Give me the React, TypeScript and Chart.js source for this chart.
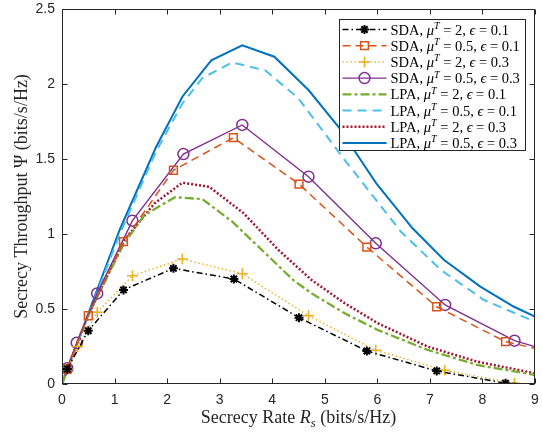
import { useEffect, useRef } from 'react';
import { Chart, registerables } from 'chart.js';

Chart.register(...registerables);

// ---- data ----
const xTickValues = [0, 1, 2, 3, 4, 5, 6, 7, 8, 9];
const yTickValues = [0, 0.5, 1, 1.5, 2, 2.5];

const methods = ['SDA', 'SDA', 'SDA', 'SDA', 'LPA', 'LPA', 'LPA', 'LPA'];
const muValues = ['2', '0.5', '2', '0.5', '2', '0.5', '2', '0.5'];
const epsValues = ['0.1', '0.1', '0.3', '0.3', '0.1', '0.1', '0.3', '0.3'];

const sdaMu2Eps01X = [0.1, 0.5, 1.17, 2.12, 3.27, 4.51, 5.8, 7.13, 8.44, 9.0];
const sdaMu2Eps01Y = [0.1, 0.355, 0.627, 0.771, 0.7, 0.442, 0.22, 0.087, 0.005, 0.0];

const sdaMu05Eps01X = [0.1, 0.5, 1.17, 2.12, 3.26, 4.51, 5.8, 7.13, 8.44, 9.0];
const sdaMu05Eps01Y = [0.1, 0.455, 0.949, 1.425, 1.642, 1.333, 0.913, 0.515, 0.282, 0.238];

const sdaMu2Eps03X = [0.1, 0.3, 0.67, 1.34, 2.29, 3.43, 4.69, 5.97, 7.28, 8.61, 9.0];
const sdaMu2Eps03Y = [0.1, 0.25, 0.478, 0.722, 0.833, 0.735, 0.455, 0.225, 0.091, 0.005, 0.0];

const sdaMu05Eps03X = [0.1, 0.28, 0.67, 1.34, 2.31, 3.43, 4.69, 5.97, 7.29, 8.61, 9.0];
const sdaMu05Eps03Y = [0.105, 0.275, 0.604, 1.089, 1.533, 1.727, 1.382, 0.938, 0.527, 0.289, 0.249];

const lpaMu2Eps01X = [0, 0.1, 0.5, 1.17, 1.57, 2.15, 2.67, 3.24, 3.87, 4.4, 4.75, 5.38, 6.01, 6.96, 7.9, 9.0];
const lpaMu2Eps01Y = [0, 0.1, 0.46, 0.93, 1.127, 1.245, 1.233, 1.082, 0.871, 0.693, 0.604, 0.471, 0.36, 0.227, 0.127, 0.06];

const lpaMu05Eps01X = [0, 0.1, 0.5, 1.1, 1.79, 2.29, 2.67, 3.24, 3.87, 4.5, 5.38, 6.45, 7.21, 8.03, 9.0];
const lpaMu05Eps01Y = [0, 0.09, 0.46, 1.0, 1.55, 1.87, 2.04, 2.144, 2.09, 1.904, 1.493, 1.015, 0.76, 0.56, 0.415];

const lpaMu2Eps03X = [0, 0.1, 0.5, 1.19, 1.76, 2.29, 2.8, 3.45, 4.12, 4.75, 5.38, 6.01, 6.96, 7.9, 9.0];
const lpaMu2Eps03Y = [0, 0.1, 0.46, 0.96, 1.204, 1.342, 1.315, 1.14, 0.893, 0.693, 0.538, 0.405, 0.249, 0.149, 0.071];

const lpaMu05Eps03X = [0, 0.1, 0.5, 1.1, 1.79, 2.29, 2.84, 3.43, 4.04, 4.69, 5.26, 5.98, 6.67, 7.27, 7.96, 8.6, 9.0];
const lpaMu05Eps03Y = [0, 0.09, 0.47, 1.03, 1.58, 1.915, 2.158, 2.258, 2.182, 1.96, 1.715, 1.338, 1.038, 0.827, 0.649, 0.515, 0.449];

const seriesX = [sdaMu2Eps01X, sdaMu05Eps01X, sdaMu2Eps03X, sdaMu05Eps03X, lpaMu2Eps01X, lpaMu05Eps01X, lpaMu2Eps03X, lpaMu05Eps03X];
const seriesY = [sdaMu2Eps01Y, sdaMu05Eps01Y, sdaMu2Eps03Y, sdaMu05Eps03Y, lpaMu2Eps01Y, lpaMu05Eps01Y, lpaMu2Eps03Y, lpaMu05Eps03Y];

// ---- styles ----
const styles = [
  { color: '#000000', dash: [6, 3, 1.5, 3], width: 1.5, marker: 'star', r: 4.5 },
  { color: '#D95319', dash: [8, 5], width: 1.5, marker: 'rect', r: 5.5 },
  { color: '#EDB120', dash: [1.5, 2.5], width: 1.4, marker: 'cross', r: 5.5 },
  { color: '#7E2F8E', dash: [], width: 1.4, marker: 'circle', r: 5.5 },
  { color: '#77AC30', dash: [9, 3, 3, 3], width: 2.3, marker: null, r: 0 },
  { color: '#4DBEEE', dash: [9, 6], width: 2, marker: null, r: 0 },
  { color: '#A2142F', dash: [2, 2], width: 2.5, marker: null, r: 0 },
  { color: '#0072BD', dash: [], width: 2, marker: null, r: 0 },
];

const SERIF = '"Liberation Serif", "DejaVu Serif", serif';
const SANS = '"Liberation Sans", Arial, sans-serif';
const AXIS_COLOR = '#262626';

type Seg = { t: string; it?: boolean; sup?: boolean; sub?: boolean };

function drawRich(ctx: CanvasRenderingContext2D, x: number, y: number, segs: Seg[], size: number, measureOnly = false) {
  let cx = x;
  for (const s of segs) {
    const sz = s.sup || s.sub ? size * 0.7 : size;
    ctx.font = `${s.it ? 'italic ' : ''}${sz}px ${SERIF}`;
    const dy = s.sup ? -size * 0.38 : s.sub ? size * 0.22 : 0;
    if (!measureOnly) ctx.fillText(s.t, cx, y + dy);
    cx += ctx.measureText(s.t).width;
  }
  return cx - x;
}

function legendSegs(i: number): Seg[] {
  return [
    { t: methods[i] + ', ' },
    { t: 'μ', it: true },
    { t: 'T', it: true, sup: true },
    { t: ' = ' + muValues[i] + ', ' },
    { t: 'ϵ', it: true },
    { t: ' = ' + epsValues[i] },
  ];
}

function drawMarker(ctx: CanvasRenderingContext2D, kind: string, x: number, y: number, r: number, color: string) {
  ctx.save();
  ctx.setLineDash([]);
  ctx.strokeStyle = color;
  ctx.lineWidth = kind === 'star' ? 2 : 1.5;
  ctx.beginPath();
  if (kind === 'circle') {
    ctx.arc(x, y, r, 0, Math.PI * 2);
  } else if (kind === 'rect') {
    const s = r * Math.SQRT1_2;
    ctx.rect(x - s, y - s, 2 * s, 2 * s);
  } else if (kind === 'cross') {
    ctx.moveTo(x - r, y); ctx.lineTo(x + r, y);
    ctx.moveTo(x, y - r); ctx.lineTo(x, y + r);
  } else if (kind === 'star') {
    for (let k = 0; k < 4; k++) {
      const a = (k * Math.PI) / 4;
      ctx.moveTo(x - r * Math.cos(a), y - r * Math.sin(a));
      ctx.lineTo(x + r * Math.cos(a), y + r * Math.sin(a));
    }
  }
  ctx.stroke();
  ctx.restore();
}

const decorPlugin = {
  id: 'decor',
  afterDatasetsDraw(chart: any) {
    const ctx: CanvasRenderingContext2D = chart.ctx;
    const { left, right, top, bottom } = chart.chartArea;
    const xs = chart.scales.x;
    const ys = chart.scales.y;
    ctx.save();
    // axes box
    ctx.strokeStyle = AXIS_COLOR;
    ctx.lineWidth = 1;
    ctx.setLineDash([]);
    const L = Math.round(left) + 0.5, R = Math.round(right) - 0.5, T = Math.round(top) + 0.5, B = Math.round(bottom) - 0.5;
    ctx.strokeRect(L, T, R - L, B - T);
    ctx.beginPath();
    for (const v of xTickValues) {
      const px = Math.round(xs.getPixelForValue(v)) + 0.5;
      ctx.moveTo(px, B); ctx.lineTo(px, B - 5);
      ctx.moveTo(px, T); ctx.lineTo(px, T + 5);
    }
    for (const v of yTickValues) {
      const py = Math.round(ys.getPixelForValue(v)) + 0.5;
      ctx.moveTo(L, py); ctx.lineTo(L + 5, py);
      ctx.moveTo(R, py); ctx.lineTo(R - 5, py);
    }
    ctx.stroke();

    // legend
    const boxL = Math.round(right) - 196 + 0.5;
    const boxT = Math.round(top) + 10 + 0.5;
    const boxW = 186, boxH = 131;
    ctx.fillStyle = '#ffffff';
    ctx.fillRect(boxL, boxT, boxW, boxH);
    ctx.strokeStyle = AXIS_COLOR;
    ctx.lineWidth = 1;
    ctx.strokeRect(boxL, boxT, boxW, boxH);
    ctx.textBaseline = 'alphabetic';
    ctx.textAlign = 'left';
    chart.data.datasets.forEach((_ds: any, i: number) => {
      const st = styles[i];
      const cy = boxT + 10 + i * 16.2;
      ctx.save();
      ctx.strokeStyle = st.color;
      ctx.lineWidth = st.width;
      ctx.setLineDash(st.dash);
      ctx.beginPath();
      ctx.moveTo(boxL + 3, cy);
      ctx.lineTo(boxL + 47, cy);
      ctx.stroke();
      ctx.restore();
      if (st.marker) drawMarker(ctx, st.marker, boxL + 25, cy, st.r, st.color);
      ctx.fillStyle = '#000000';
      drawRich(ctx, boxL + 51, cy + 5, legendSegs(i), 14.5);
    });

    // axis titles
    ctx.fillStyle = AXIS_COLOR;
    const xSegs: Seg[] = [{ t: 'Secrecy Rate ' }, { t: 'R', it: true }, { t: 's', it: true, sub: true }, { t: ' (bits/s/Hz)' }];
    const xw = drawRich(ctx, 0, 0, xSegs, 18, true);
    drawRich(ctx, (left + right) / 2 - xw / 2, 423, xSegs, 18);

    const ySegs: Seg[] = [{ t: 'Secrecy Throughput Ψ (bits/s/Hz)' }];
    const yw = drawRich(ctx, 0, 0, ySegs, 18, true);
    ctx.translate(27, (top + bottom) / 2);
    ctx.rotate(-Math.PI / 2);
    drawRich(ctx, -yw / 2, 0, ySegs, 18);
    ctx.restore();
  },
};

export default function App() {
  const ref = useRef<HTMLCanvasElement | null>(null);
  useEffect(() => {
    document.body.style.margin = '0';
    const canvas = ref.current;
    if (!canvas) return;
    const datasets = seriesX.map((xsArr, i) => {
      const st = styles[i];
      const n = xsArr.length;
      return {
        label: `${methods[i]}, μT = ${muValues[i]}, ϵ = ${epsValues[i]}`,
        data: xsArr.map((x, k) => ({ x, y: seriesY[i][k] })),
        borderColor: st.color,
        backgroundColor: 'rgba(0,0,0,0)',
        borderWidth: st.width,
        borderDash: st.dash,
        tension: 0,
        fill: false,
        pointStyle: st.marker || 'circle',
        pointRadius: st.marker ? (c: any) => (c.dataIndex === n - 1 ? 0 : st.r) : 0,
        pointBorderWidth: st.marker === 'star' ? 2 : 1.5,
        pointBorderColor: st.color,
        pointBackgroundColor: 'rgba(0,0,0,0)',
        pointHoverRadius: 0,
      };
    });
    const chart = new Chart(canvas, {
      type: 'line',
      data: { datasets },
      options: {
        animation: false,
        responsive: false,
        maintainAspectRatio: false,
        events: [],
        layout: { padding: { top: 9, right: 4, left: 0, bottom: 0 } },
        plugins: { legend: { display: false }, tooltip: { enabled: false }, title: { display: false } },
        scales: {
          x: {
            type: 'linear',
            min: 0,
            max: 9,
            afterFit: (s: any) => { s.height = 48; s.paddingLeft = 0; s.paddingRight = 0; },
            grid: { display: false, drawTicks: false },
            border: { display: false },
            afterBuildTicks: (s: any) => { s.ticks = xTickValues.map((v) => ({ value: v })); },
            ticks: { padding: 8, maxRotation: 0, autoSkip: false, color: AXIS_COLOR, font: { family: SANS, size: 14 }, callback: (v: any) => String(v) },
          },
          y: {
            type: 'linear',
            min: 0,
            max: 2.5,
            afterFit: (s: any) => { s.width = 62; s.paddingTop = 0; s.paddingBottom = 0; },
            grid: { display: false, drawTicks: false },
            border: { display: false },
            afterBuildTicks: (s: any) => { s.ticks = yTickValues.map((v) => ({ value: v })); },
            ticks: { padding: 7, autoSkip: false, color: AXIS_COLOR, font: { family: SANS, size: 14 }, callback: (v: any) => String(v) },
          },
        },
      },
      plugins: [decorPlugin],
    });
    return () => chart.destroy();
  }, []);
  return (
    <div style={{ width: 542, height: 432 }}>
      <canvas ref={ref} width={542} height={432} style={{ display: 'block' }} />
    </div>
  );
}
